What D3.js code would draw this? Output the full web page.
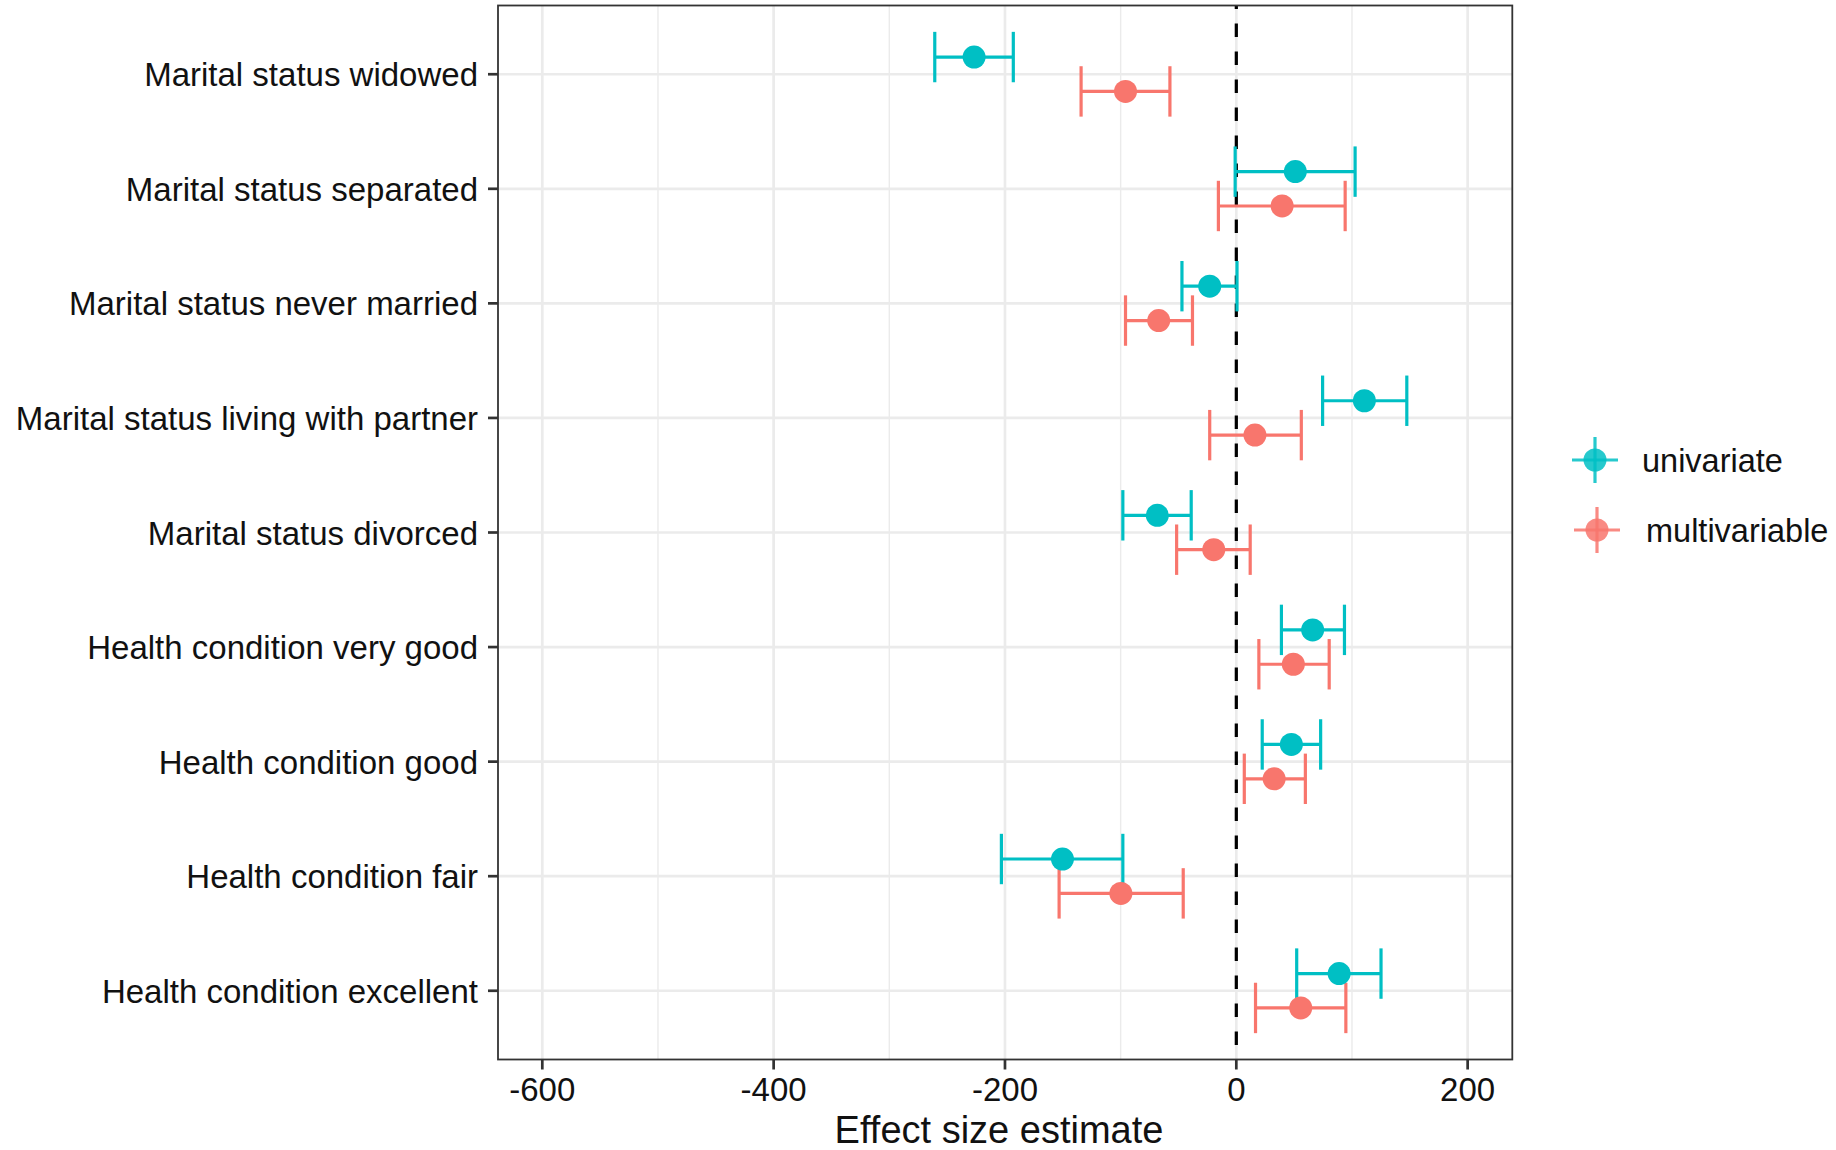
<!DOCTYPE html>
<html>
<head>
<meta charset="utf-8">
<script src="https://cdn.jsdelivr.net/npm/d3@7/dist/d3.min.js"></script>
<style>
  html, body { margin: 0; padding: 0; background: #fff; }
  svg { display: block; font-family: "Liberation Sans", Arial, Helvetica, sans-serif; }
</style>
</head>
<body>
<svg id="chart" width="1836" height="1150"></svg>
<script>
// Terms shown on the vertical axis, top to bottom
const categories = [
  "Marital status widowed",
  "Marital status separated",
  "Marital status never married",
  "Marital status living with partner",
  "Marital status divorced",
  "Health condition very good",
  "Health condition good",
  "Health condition fair",
  "Health condition excellent"
];

const seriesNames = ["univariate", "multivariable"];

// Univariate model: estimate with lower / upper confidence limits
const uniEstimate = [-226.7, 51.0, -23.0, 110.7, -68.3, 66.0, 47.6, -150.3, 88.9];
const uniLower    = [-260.7, -1.0, -47.0, 74.6, -98.1, 39.0, 22.4, -203.1, 52.2];
const uniUpper    = [-192.8, 102.7, 0.6, 147.4, -39.0, 93.5, 72.9, -98.1, 125.1];

// Multivariable model: estimate with lower / upper confidence limits
const multiEstimate = [-95.8, 39.6, -67.1, 16.1, -19.5, 49.3, 32.7, -99.8, 55.7];
const multiLower    = [-134.2, -15.5, -95.8, -23.0, -51.6, 19.5, 6.9, -153.2, 16.6];
const multiUpper    = [-57.4, 94.1, -37.9, 56.2, 12.0, 80.3, 59.7, -45.9, 94.7];

const xMajorTicks = [-600, -400, -200, 0, 200];
const xMinorTicks = [-500, -300, -100, 100];
const xTickLabels = ["-600", "-400", "-200", "0", "200"];
const xTitle = "Effect size estimate";

// Long-format rows built from the arrays above
const rows = [];
categories.forEach((c, i) => {
  rows.push({ term: c, series: "univariate", est: uniEstimate[i], lo: uniLower[i], hi: uniUpper[i] });
  rows.push({ term: c, series: "multivariable", est: multiEstimate[i], lo: multiLower[i], hi: multiUpper[i] });
});

const svg = d3.select("#chart");
const panel = { left: 498, right: 1512.3, top: 5.5, bottom: 1059.5 };

const x = d3.scaleLinear().domain([-638.3, 238.6]).range([panel.left, panel.right]);
const y = d3.scalePoint().domain(categories).range([panel.top, panel.bottom]).padding(0.6);
const color = d3.scaleOrdinal().domain(seriesNames).range(["#00BFC4", "#F8766D"]);

const step = y.step();
const dodge = d3.scaleOrdinal().domain(seriesNames).range([-0.15 * step, 0.15 * step]);
const capHalf = 0.22 * step;

// Panel background
svg.append("rect")
  .attr("x", panel.left).attr("y", panel.top)
  .attr("width", panel.right - panel.left).attr("height", panel.bottom - panel.top)
  .attr("fill", "#fff");

const grid = svg.append("g");
grid.selectAll("line.minor").data(xMinorTicks).join("line")
  .attr("class", "minor")
  .attr("x1", d => x(d)).attr("x2", d => x(d))
  .attr("y1", panel.top).attr("y2", panel.bottom)
  .attr("stroke", "#EBEBEB").attr("stroke-width", 1.4);
grid.selectAll("line.major").data(xMajorTicks).join("line")
  .attr("class", "major")
  .attr("x1", d => x(d)).attr("x2", d => x(d))
  .attr("y1", panel.top).attr("y2", panel.bottom)
  .attr("stroke", "#EBEBEB").attr("stroke-width", 2.7);
grid.selectAll("line.h").data(categories).join("line")
  .attr("class", "h")
  .attr("x1", panel.left).attr("x2", panel.right)
  .attr("y1", d => y(d)).attr("y2", d => y(d))
  .attr("stroke", "#EBEBEB").attr("stroke-width", 2.7);

// Reference line at zero
svg.append("line")
  .attr("x1", x(0)).attr("x2", x(0))
  .attr("y1", panel.top).attr("y2", panel.bottom)
  .attr("stroke", "#000").attr("stroke-width", 3.2)
  .attr("stroke-dasharray", "13.5 14.5")
  .attr("stroke-dashoffset", 10);

// Error bars
const bars = svg.append("g").selectAll("g").data(rows).join("g")
  .attr("stroke", d => color(d.series))
  .attr("stroke-width", 3.2)
  .attr("fill", "none");
bars.append("line")
  .attr("x1", d => x(d.lo)).attr("x2", d => x(d.hi))
  .attr("y1", d => y(d.term) + dodge(d.series)).attr("y2", d => y(d.term) + dodge(d.series));
bars.append("line")
  .attr("x1", d => x(d.lo)).attr("x2", d => x(d.lo))
  .attr("y1", d => y(d.term) + dodge(d.series) - capHalf).attr("y2", d => y(d.term) + dodge(d.series) + capHalf);
bars.append("line")
  .attr("x1", d => x(d.hi)).attr("x2", d => x(d.hi))
  .attr("y1", d => y(d.term) + dodge(d.series) - capHalf).attr("y2", d => y(d.term) + dodge(d.series) + capHalf);

// Point estimates
svg.append("g").selectAll("circle").data(rows).join("circle")
  .attr("cx", d => x(d.est))
  .attr("cy", d => y(d.term) + dodge(d.series))
  .attr("r", 11.5)
  .attr("fill", d => color(d.series));

// Panel border
svg.append("rect")
  .attr("x", panel.left).attr("y", panel.top)
  .attr("width", panel.right - panel.left).attr("height", panel.bottom - panel.top)
  .attr("fill", "none").attr("stroke", "#333").attr("stroke-width", 1.8);

// Y axis (ticks + labels)
const yAxis = svg.append("g");
yAxis.selectAll("line").data(categories).join("line")
  .attr("x1", panel.left - 10).attr("x2", panel.left)
  .attr("y1", d => y(d)).attr("y2", d => y(d))
  .attr("stroke", "#333").attr("stroke-width", 2.7);
yAxis.selectAll("text").data(categories).join("text")
  .attr("x", panel.left - 20)
  .attr("y", d => y(d) + 12)
  .attr("text-anchor", "end")
  .attr("font-size", 33)
  .attr("fill", "#111")
  .text(d => d);

// X axis (ticks + labels)
const xAxis = svg.append("g");
xAxis.selectAll("line").data(xMajorTicks).join("line")
  .attr("x1", d => x(d)).attr("x2", d => x(d))
  .attr("y1", panel.bottom).attr("y2", panel.bottom + 10)
  .attr("stroke", "#333").attr("stroke-width", 2.7);
xAxis.selectAll("text").data(xMajorTicks).join("text")
  .attr("x", d => x(d))
  .attr("y", 1101)
  .attr("text-anchor", "middle")
  .attr("font-size", 33)
  .attr("fill", "#111")
  .text((d, i) => xTickLabels[i]);

svg.append("text")
  .attr("x", 999).attr("y", 1143)
  .attr("text-anchor", "middle")
  .attr("font-size", 38)
  .attr("fill", "#111")
  .text(xTitle);

// Legend
const legendPos = [{ cx: 1595, cy: 460, tx: 1642 }, { cx: 1597, cy: 530, tx: 1646 }];
const legend = svg.append("g").selectAll("g").data(seriesNames).join("g")
  .attr("transform", (d, i) => `translate(${legendPos[i].cx},${legendPos[i].cy})`);
legend.append("line")
  .attr("x1", -23).attr("x2", 23).attr("y1", 0).attr("y2", 0)
  .attr("stroke", d => color(d)).attr("stroke-width", 3.2).attr("stroke-opacity", 0.85);
legend.append("line")
  .attr("x1", 0).attr("x2", 0).attr("y1", -23).attr("y2", 23)
  .attr("stroke", d => color(d)).attr("stroke-width", 3.2).attr("stroke-opacity", 0.85);
legend.append("circle")
  .attr("r", 11.5)
  .attr("fill", d => color(d)).attr("fill-opacity", 0.85);
legend.append("text")
  .attr("x", (d, i) => legendPos[i].tx - legendPos[i].cx)
  .attr("y", 12)
  .attr("font-size", 32.5)
  .attr("fill", "#111")
  .text(d => d);
</script>
</body>
</html>
